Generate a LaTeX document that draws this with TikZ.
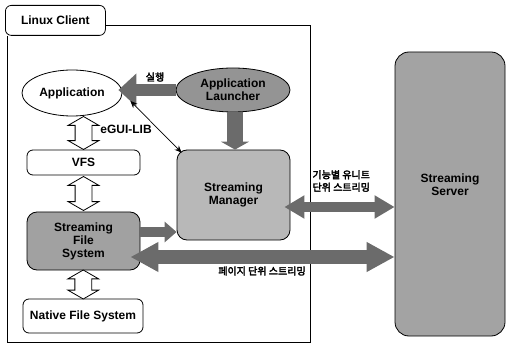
\documentclass[tikz,border=0pt]{standalone}
\usepackage{fontspec}
\setmainfont{Liberation Sans}
\newfontfamily\kr[FakeBold=3]{Noto Sans CJK KR}
\usetikzlibrary{shapes.geometric,shapes.arrows,arrows.meta,calc}
\definecolor{arrowgray}{gray}{0.42}
\definecolor{boxgray}{gray}{0.63}
\definecolor{mgrgray}{gray}{0.72}
\definecolor{lngray}{gray}{0.58}
\definecolor{srvgray}{gray}{0.64}
\tikzset{
  whitebox/.style={draw, line width=0.8pt, rounded corners=6pt, fill=white, inner sep=0pt},
  graybox/.style={draw, line width=0.8pt, rounded corners=10pt, align=center, inner sep=0pt},
  hollow/.style={double arrow, draw, fill=white, line width=0.8pt, inner sep=0pt, inner ysep=8pt,
    minimum height=#1, double arrow head extend=7pt, double arrow tip angle=120, rotate=90},
  krlabel/.style={font=\kr\mdseries\fontsize{10}{12.5}\selectfont},
}
\begin{document}
\begin{tikzpicture}[x=1pt,y=-1pt,font=\bfseries\fontsize{12}{13}\selectfont]
\useasboundingbox (0,0) rectangle (508,355);
% coordinates for frame and connector heights
\coordinate (ftr) at (310,25);
\coordinate (fbr) at (310,342);
\coordinate (fbl) at (7,342);
\coordinate (vx) at (235,0);
\coordinate (y232) at (0,232);
\coordinate (y207) at (0,207);
\coordinate (y257) at (0,257);

% Linux Client frame
\node[whitebox, minimum width=100, minimum height=30, anchor=north west] (tab) at (5,5) {Linux Client};
\draw[line width=0.8pt] ([xshift=2]tab.south west) -- (fbl) -- (fbr) -- (ftr) -- (tab.east |- ftr);

% nodes
\node[ellipse, draw, fill=white, line width=0.8pt, minimum width=100, minimum height=46, inner sep=0pt] (app) at (72,93) {Application};
\node[ellipse, draw, fill=lngray, line width=0.8pt, minimum width=114, minimum height=44, inner sep=0pt, align=center] (lnch) at (233,90) {Application\\Launcher};
\node[graybox, fill=mgrgray, minimum width=113, minimum height=90] (sm) at (233.5,195) {Streaming\\Manager};
\node[graybox, fill=srvgray, minimum width=110, minimum height=284, rounded corners=14pt] (srv) at (450,194) {};
\node[align=center] (srvtxt) at (450,185) {Streaming\\Server};
\node[whitebox, minimum width=113, minimum height=25] (vfs) at (83.5,162.5) {VFS};
\node[graybox, fill=boxgray, minimum width=113, minimum height=58] (sfs) at (83.5,241) {Streaming\\File\\System};
\node[whitebox, minimum width=120, minimum height=34] (nfs) at (83,316) {Native File System};

% hollow double arrows
\node[hollow=33pt] (h1) at ($(vfs.north)!0.5!(vfs.north |- app.south)$) {};
\node[hollow=34pt] (h2) at ($(vfs.south)!0.5!(sfs.north)$) {};
\node[hollow=29pt] (h3) at ($(sfs.south)!0.5!(nfs.north)$) {};

% thick gray arrows
\draw[arrowgray, line width=12pt, -{Triangle[length=18pt,width=32pt]}] (lnch.west) -- ([xshift=-4]lnch.west -| app.east);
\draw[arrowgray, line width=16pt, -{Triangle[length=8pt,width=28pt]}] (lnch.south -| vx) -- (sm.north -| vx);
\draw[arrowgray, line width=9pt, -{Triangle[length=12pt,width=20pt]}] (sfs.east |- y232) -- (sm.west |- y232);
\draw[arrowgray, line width=10pt, {Triangle[length=20pt,width=22pt]}-{Triangle[length=20pt,width=22pt]}] ([xshift=-6]sm.east |- y207) -- (srv.west |- y207);
\draw[arrowgray, line width=14pt, {Triangle[length=28pt,width=28pt]}-{Triangle[length=28pt,width=28pt]}] ([xshift=-10]sfs.east |- y257) -- (srv.west |- y257);

% thin arrow
\draw[line width=0.7pt, {Stealth[length=7pt,width=6pt]}-{Stealth[length=7pt,width=6pt]}] ([shift={(8,8)}]app.east) -- ([shift={(5,3)}]sm.north west);

% labels
\node[krlabel] (l1) at (155,77) {실행};
\node (l2) at (126,129) {eGUI-LIB};
\node[krlabel, align=left, anchor=west] (l3) at (309,181) {기능별 유니트\\단위 스트리밍};
\node[krlabel] (l4) at (262,271) {페이지 단위 스트리밍};
\end{tikzpicture}
\end{document}
